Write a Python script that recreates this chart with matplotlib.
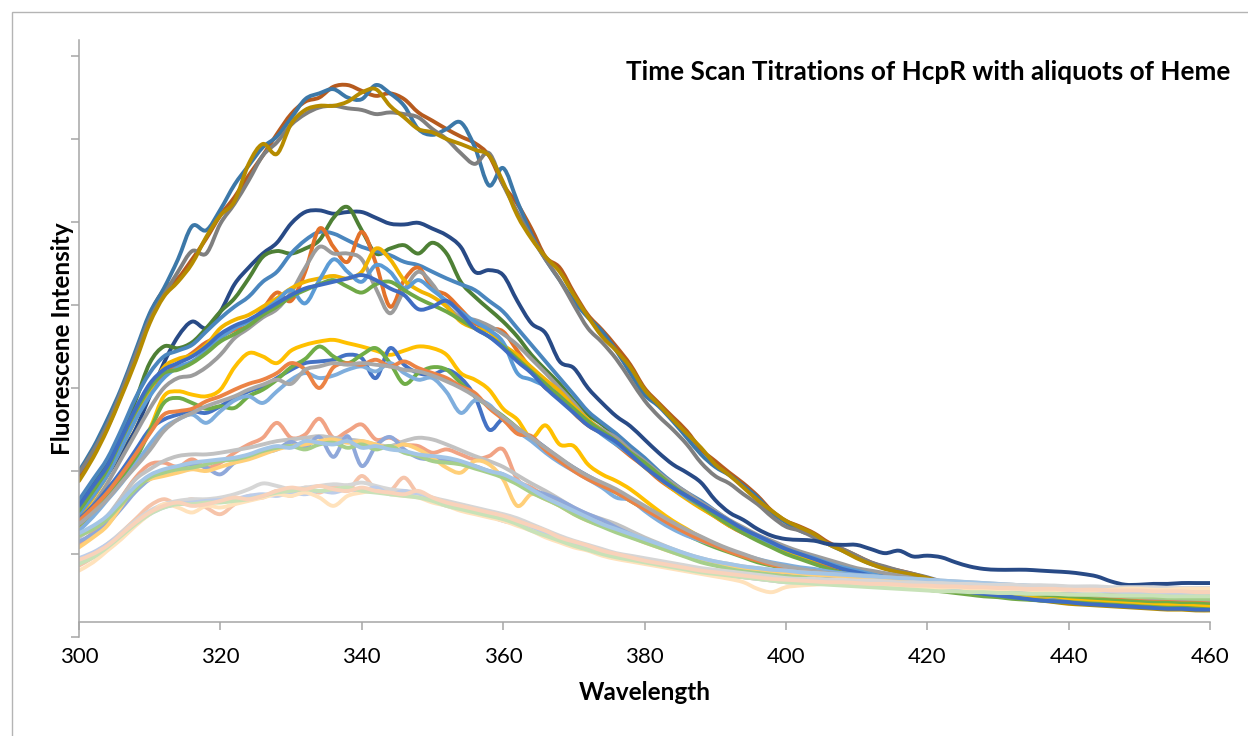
import numpy as np
import matplotlib
matplotlib.use('Agg')
import matplotlib.pyplot as plt
from matplotlib.path import Path
from matplotlib.patches import PathPatch, Rectangle

plt.rcParams['font.family'] = ['Lato', 'DejaVu Sans']

wavelength = np.arange(300, 461, 2)

# --- first scans (highest band) ---
top_brown = [192, 220, 252, 292, 338, 388, 418, 432, 455, 480,
             508, 530, 556, 580, 606, 630, 645, 650, 663, 665,
             658, 652, 655, 648, 632, 622, 612, 603, 595, 580,
             545, 522, 492, 458, 445, 415, 388, 370, 350, 328,
             300, 282, 265, 248, 226, 212, 198, 185, 170, 152,
             140, 133, 125, 114, 106, 98, 90, 84, 80, 76,
             71, 66, 62, 58, 54, 51, 49, 47, 45, 44,
             42, 41, 40, 39, 38, 37, 36, 35, 35, 34, 34]
top_steel = [200, 228, 262, 300, 345, 390, 420, 455, 495, 490,
             515, 545, 568, 590, 603, 625, 648, 655, 660, 650,
             648, 665, 655, 640, 612, 605, 612, 620, 590, 544,
             565, 525, 485, 455, 430, 405, 385, 368, 345, 318,
             292, 278, 260, 240, 220, 205, 195, 182, 168, 150,
             138, 128, 122, 112, 104, 96, 88, 84, 79, 75,
             70, 66, 61, 57, 54, 51, 49, 47, 45, 44,
             43, 42, 41, 40, 39, 38, 37, 37, 36, 36, 37]
top_gray = [198, 224, 256, 296, 340, 383, 412, 440, 465, 462,
            498, 522, 550, 580, 596, 617, 630, 638, 640, 637,
            635, 630, 632, 630, 626, 612, 600, 583, 570, 583,
            545, 512, 482, 455, 430, 400, 372, 355, 335, 310,
            285, 266, 250, 232, 210, 194, 185, 172, 160, 145,
            133, 128, 120, 112, 106, 98, 90, 85, 80, 76,
            72, 67, 63, 59, 56, 53, 51, 49, 47, 46,
            45, 44, 42, 41, 40, 39, 38, 38, 37, 37, 36]
top_gold = [188, 216, 250, 290, 332, 378, 410, 428, 450, 482,
            508, 525, 570, 594, 582, 618, 635, 640, 640, 645,
            656, 660, 640, 626, 612, 608, 600, 594, 587, 580,
            548, 508, 480, 458, 440, 412, 386, 362, 345, 325,
            298, 280, 262, 245, 228, 208, 195, 180, 165, 152,
            140, 132, 124, 112, 104, 95, 88, 82, 78, 75,
            71, 66, 61, 57, 54, 51, 49, 46, 44, 42,
            40, 39, 38, 37, 36, 35, 34, 33, 33, 32, 32]

navy = [150, 172, 195, 222, 250, 290, 330, 362, 380, 372,
        392, 425, 445, 462, 475, 498, 512, 514, 510, 512,
        512, 505, 498, 497, 499, 492, 484, 470, 440, 442,
        436, 405, 378, 366, 332, 324, 300, 282, 266, 254,
        238, 222, 208, 198, 186, 165, 150, 141, 130, 122,
        118, 117, 116, 112, 111, 111, 106, 101, 104, 97,
        98, 96, 90, 85, 82, 81, 81, 81, 80, 79,
        78, 76, 73, 67, 63, 63, 64, 64, 65, 65, 65]

# --- second band ---
b2_darkgreen = [160, 185, 210, 245, 285, 330, 350, 348, 355, 372,
                392, 408, 432, 458, 465, 462, 468, 478, 505, 518,
                490, 462, 468, 472, 462, 475, 462, 428, 410, 395,
                380, 362, 340, 322, 305, 285, 268, 256, 242, 226,
                212, 198, 184, 172, 161, 150, 138, 128, 120, 112,
                104, 98, 92, 86, 80, 76, 72, 69, 66, 63,
                60, 58, 56, 54, 52, 50, 49, 47, 46, 44,
                43, 42, 41, 40, 39, 38, 37, 37, 36, 36, 35]
b2_steel = [165, 190, 215, 250, 288, 318, 338, 345, 352, 368,
            384, 398, 410, 428, 440, 462, 478, 488, 486, 478,
            470, 465, 460, 452, 448, 440, 432, 425, 418, 405,
            392, 372, 352, 332, 312, 292, 272, 258, 245, 230,
            216, 200, 186, 174, 164, 152, 140, 130, 121, 114,
            107, 101, 95, 89, 84, 80, 76, 73, 70, 66,
            63, 60, 58, 56, 54, 52, 51, 49, 48, 47,
            46, 44, 43, 42, 41, 40, 39, 38, 38, 37, 36]
b2_orange = [150, 172, 198, 232, 270, 300, 315, 330, 342, 355,
             362, 370, 375, 395, 415, 405, 440, 492, 470, 452,
             488, 450, 398, 430, 445, 420, 412, 395, 378, 372,
             368, 345, 322, 300, 292, 270, 255, 245, 232, 218,
             205, 190, 178, 168, 156, 145, 134, 125, 118, 110,
             104, 98, 92, 86, 82, 78, 74, 72, 68, 66,
             63, 60, 58, 56, 55, 53, 52, 50, 49, 48,
             47, 46, 45, 44, 43, 42, 42, 41, 40, 40, 39]
b2_gray = [140, 160, 185, 215, 245, 275, 300, 312, 315, 325,
           340, 360, 372, 385, 395, 415, 445, 470, 462, 462,
           455, 420, 390, 418, 440, 425, 400, 385, 382, 375,
           365, 352, 335, 318, 300, 282, 262, 250, 240, 225,
           212, 198, 185, 174, 162, 152, 141, 132, 123, 116,
           109, 103, 98, 93, 88, 83, 80, 77, 74, 71,
           68, 66, 64, 62, 60, 59, 58, 57, 56, 56,
           55, 54, 53, 52, 51, 50, 49, 48, 47, 47, 46]
b2_gold = [145, 168, 195, 228, 262, 295, 325, 335, 340, 352,
           372, 382, 388, 398, 408, 420, 428, 432, 435, 432,
           440, 468, 455, 430, 418, 410, 398, 380, 372, 368,
           352, 340, 325, 310, 296, 278, 262, 248, 236, 222,
           205, 192, 178, 166, 155, 145, 134, 126, 118, 110,
           104, 98, 93, 88, 82, 78, 74, 71, 68, 64,
           61, 59, 57, 55, 53, 52, 50, 49, 47, 46,
           45, 44, 43, 42, 41, 40, 39, 38, 38, 37, 36]
b2_lightblue = [148, 170, 195, 228, 262, 290, 312, 325, 332, 345,
                360, 372, 380, 392, 405, 418, 402, 430, 455, 440,
                428, 448, 440, 420, 430, 418, 405, 392, 380, 370,
                355, 318, 310, 302, 290, 272, 258, 244, 232, 220,
                206, 192, 180, 168, 158, 148, 137, 128, 120, 112,
                106, 100, 95, 89, 84, 80, 76, 72, 70, 67,
                64, 61, 59, 57, 55, 54, 52, 51, 50, 48,
                47, 46, 45, 44, 43, 42, 41, 40, 40, 39, 38]
b2_green = [152, 176, 202, 238, 272, 300, 318, 322, 330, 342,
            356, 365, 375, 388, 398, 410, 418, 425, 430, 422,
            415, 425, 428, 418, 408, 400, 392, 382, 372, 362,
            350, 335, 320, 305, 290, 275, 260, 248, 236, 222,
            210, 196, 182, 170, 158, 146, 135, 125, 116, 108,
            100, 94, 88, 82, 77, 73, 69, 66, 63, 60,
            57, 55, 53, 51, 49, 48, 46, 45, 44, 43,
            42, 41, 40, 39, 38, 37, 36, 36, 35, 35, 34]
b2_blue = [158, 182, 206, 240, 275, 305, 322, 330, 338, 350,
           365, 375, 382, 392, 402, 412, 420, 424, 428, 432,
           436, 430, 420, 412, 395, 398, 405, 390, 372, 362,
           348, 332, 318, 300, 285, 270, 255, 245, 235, 220,
           205, 192, 180, 170, 160, 150, 140, 130, 122, 114,
           106, 100, 94, 88, 82, 78, 74, 70, 67, 64,
           61, 58, 56, 54, 52, 50, 48, 46, 44, 43,
           42, 40, 39, 38, 37, 36, 35, 34, 34, 33, 33]

# --- third band ---
b3_gold = [130, 148, 168, 192, 218, 250, 290, 296, 292, 290,
           298, 325, 342, 338, 330, 345, 352, 356, 358, 354,
           350, 345, 340, 345, 350, 348, 340, 318, 310, 298,
           275, 262, 240, 255, 232, 230, 208, 196, 188, 178,
           165, 152, 140, 130, 120, 112, 105, 98, 92, 88,
           86, 82, 80, 77, 74, 72, 70, 68, 66, 64,
           62, 60, 58, 57, 55, 54, 53, 51, 50, 49,
           47, 46, 45, 44, 43, 42, 41, 40, 40, 39, 38]
b3_blue = [142, 158, 178, 200, 225, 250, 262, 268, 272, 270,
           278, 288, 296, 302, 312, 322, 330, 332, 334, 340,
           336, 312, 348, 328, 318, 316, 322, 312, 290, 250,
           262, 246, 240, 228, 215, 204, 194, 185, 176, 166,
           155, 144, 134, 126, 118, 110, 104, 98, 93, 88,
           84, 81, 78, 75, 73, 71, 70, 68, 66, 64,
           62, 61, 60, 58, 57, 56, 55, 53, 52, 51,
           50, 49, 48, 47, 46, 45, 44, 44, 43, 42, 42]
b3_green = [135, 150, 168, 190, 214, 248, 282, 288, 282, 275,
            278, 276, 290, 298, 310, 325, 335, 350, 338, 330,
            340, 348, 330, 305, 318, 325, 322, 306, 290, 278,
            266, 252, 238, 226, 214, 203, 191, 182, 174, 164,
            154, 143, 132, 123, 115, 108, 102, 96, 90, 86,
            82, 79, 77, 74, 72, 70, 68, 66, 64, 62,
            60, 59, 58, 56, 55, 54, 53, 52, 51, 50,
            49, 48, 47, 46, 45, 44, 43, 43, 42, 42, 41]
b3_lightblue = [128, 145, 165, 185, 208, 232, 252, 262, 268, 258,
                272, 285, 290, 282, 296, 310, 318, 312, 315, 322,
                326, 320, 330, 318, 310, 312, 295, 270, 285, 280,
                262, 248, 236, 222, 210, 200, 190, 180, 168, 165,
                152, 140, 130, 122, 116, 110, 104, 99, 94, 90,
                87, 84, 82, 79, 77, 75, 74, 72, 70, 68,
                67, 66, 64, 63, 62, 61, 60, 59, 58, 57,
                56, 55, 54, 53, 52, 51, 50, 50, 49, 49, 48]
b3_orange = [140, 156, 174, 196, 220, 245, 268, 272, 275, 284,
             290, 298, 305, 310, 318, 330, 322, 300, 325, 330,
             328, 334, 326, 332, 324, 318, 312, 302, 294, 276,
             262, 245, 242, 225, 212, 200, 190, 182, 174, 164,
             154, 144, 134, 125, 117, 110, 103, 97, 92, 87,
             84, 81, 79, 76, 74, 72, 70, 69, 67, 65,
             63, 62, 60, 59, 58, 57, 56, 55, 54, 53,
             52, 51, 50, 49, 48, 47, 46, 46, 45, 45, 44]
b3_gray = [136, 150, 166, 186, 205, 225, 248, 262, 270, 278,
           284, 290, 298, 304, 310, 305, 322, 326, 330, 328,
           330, 328, 326, 322, 320, 315, 308, 300, 290, 278,
           265, 252, 240, 228, 216, 204, 194, 186, 178, 168,
           158, 148, 138, 129, 121, 113, 106, 100, 94, 89,
           85, 82, 79, 77, 75, 73, 71, 69, 67, 66,
           64, 63, 62, 60, 59, 58, 57, 56, 55, 54,
           53, 52, 51, 50, 49, 48, 47, 47, 46, 46, 45]

# --- fourth band ---
b4_salmon = [112, 126, 142, 168, 192, 208, 210, 205, 214, 204,
             210, 222, 232, 240, 258, 240, 244, 263, 240, 248,
             256, 238, 240, 232, 230, 222, 226, 220, 214, 218,
             226, 190, 180, 170, 162, 152, 144, 136, 129, 122,
             116, 110, 104, 98, 94, 90, 87, 84, 82, 80,
             79, 78, 77, 75, 74, 73, 71, 70, 69, 68,
             67, 66, 65, 63, 62, 61, 60, 59, 59, 58,
             57, 56, 56, 55, 54, 53, 53, 52, 52, 51, 51]
b4_gray = [120, 132, 146, 168, 190, 202, 212, 218, 220, 220,
           222, 225, 228, 232, 236, 238, 240, 242, 240, 238,
           236, 232, 230, 236, 240, 238, 232, 225, 218, 212,
           205, 195, 185, 176, 166, 156, 148, 142, 136, 128,
           120, 113, 106, 100, 95, 91, 88, 85, 83, 81,
           80, 78, 77, 76, 75, 74, 73, 72, 71, 70,
           69, 68, 67, 66, 65, 64, 63, 62, 62, 61,
           60, 59, 59, 58, 57, 57, 56, 56, 55, 55, 54]
b4_periwinkle = [115, 124, 136, 155, 175, 190, 198, 204, 208, 204,
                 196, 210, 218, 222, 226, 235, 228, 241, 217, 242,
                 206, 230, 241, 226, 216, 214, 212, 210, 206, 200,
                 196, 185, 177, 172, 165, 156, 148, 141, 132, 124,
                 116, 110, 105, 99, 94, 90, 86, 83, 81, 79,
                 77, 76, 75, 73, 72, 71, 70, 68, 67, 66,
                 65, 64, 63, 62, 61, 60, 59, 58, 57, 56,
                 55, 55, 54, 53, 52, 52, 51, 50, 50, 49, 49]
b4_gold = [108, 120, 134, 158, 182, 190, 194, 198, 202, 200,
           205, 210, 214, 220, 226, 230, 232, 236, 238, 234,
           236, 232, 228, 232, 226, 216, 204, 198, 212, 208,
           190, 158, 172, 166, 158, 148, 140, 134, 128, 121,
           114, 108, 102, 97, 92, 88, 85, 83, 81, 79,
           78, 76, 75, 74, 73, 72, 71, 70, 69, 68,
           67, 66, 65, 64, 63, 62, 61, 60, 59, 58,
           57, 57, 56, 55, 54, 54, 53, 53, 52, 52, 51]
b4_green = [122, 130, 142, 160, 178, 192, 198, 202, 204, 208,
            212, 214, 218, 224, 228, 230, 226, 232, 234, 228,
            232, 226, 230, 222, 218, 212, 210, 208, 203, 198,
            192, 184, 174, 166, 158, 148, 140, 133, 126, 120,
            114, 108, 102, 96, 90, 86, 82, 79, 77, 75,
            73, 72, 70, 69, 68, 67, 66, 64, 63, 62,
            61, 60, 59, 58, 57, 56, 55, 54, 53, 52,
            52, 51, 50, 50, 49, 48, 48, 47, 47, 46, 46]
b4_lightblue = [125, 134, 146, 164, 182, 195, 202, 206, 210, 212,
                214, 216, 220, 226, 230, 228, 236, 234, 232, 236,
                228, 230, 226, 224, 220, 218, 216, 212, 206, 200,
                196, 188, 178, 168, 160, 152, 144, 136, 130, 124,
                118, 112, 106, 100, 95, 91, 88, 85, 83, 81,
                80, 78, 77, 76, 75, 74, 73, 72, 71, 70,
                69, 68, 67, 66, 65, 64, 63, 62, 61, 61,
                60, 59, 59, 58, 58, 57, 57, 56, 56, 55, 55]

# --- last scans (lowest band) ---
b5_salmon = [86, 96, 110, 126, 142, 158, 166, 160, 166, 156,
             148, 160, 170, 168, 176, 170, 180, 174, 182, 176,
             194, 178, 176, 192, 172, 166, 160, 156, 150, 146,
             140, 136, 130, 122, 116, 110, 106, 100, 96, 93,
             90, 87, 84, 81, 78, 76, 74, 72, 70, 68,
             66, 66, 65, 65, 64, 64, 63, 62, 62, 61,
             61, 60, 60, 59, 59, 58, 58, 57, 57, 57,
             56, 56, 55, 55, 55, 54, 54, 54, 53, 53, 53]
b5_gray = [92, 100, 112, 126, 140, 152, 160, 164, 166, 166,
           168, 172, 178, 185, 182, 178, 180, 182, 184, 183,
           186, 182, 178, 176, 174, 168, 164, 160, 156, 152,
           148, 143, 136, 129, 122, 116, 111, 106, 101, 98,
           95, 92, 89, 86, 83, 81, 79, 77, 75, 73,
           71, 70, 70, 69, 69, 68, 68, 67, 66, 66,
           65, 65, 64, 64, 63, 63, 63, 62, 62, 62,
           61, 61, 61, 60, 60, 60, 60, 59, 59, 59, 59]
b5_periwinkle = [95, 102, 112, 124, 136, 148, 156, 160, 162, 164,
                 165, 166, 170, 172, 170, 174, 172, 176, 174, 178,
                 176, 180, 172, 176, 170, 164, 158, 154, 150, 146,
                 140, 136, 130, 124, 117, 112, 106, 101, 96, 93,
                 90, 87, 84, 81, 78, 76, 74, 72, 70, 68,
                 66, 65, 64, 64, 63, 63, 62, 61, 61, 60,
                 60, 59, 59, 58, 58, 58, 57, 57, 56, 56,
                 56, 55, 55, 55, 54, 54, 54, 53, 53, 53, 53]
b5_peach = [80, 90, 104, 118, 134, 148, 160, 156, 150, 158,
            156, 160, 164, 168, 172, 170, 174, 168, 158, 170,
            174, 176, 172, 170, 168, 162, 158, 152, 148, 144,
            140, 134, 128, 120, 114, 108, 104, 98, 94, 91,
            88, 85, 82, 79, 76, 73, 70, 66, 58, 54,
            60, 62, 63, 64, 63, 62, 62, 61, 60, 60,
            59, 59, 60, 58, 57, 57, 58, 57, 56, 56,
            57, 56, 56, 57, 58, 58, 57, 57, 58, 58, 58]
b5_mint = [88, 96, 108, 122, 136, 148, 156, 160, 160, 162,
           162, 164, 166, 170, 174, 176, 178, 176, 178, 180,
           176, 174, 172, 170, 168, 164, 158, 154, 150, 146,
           142, 136, 128, 122, 116, 110, 105, 100, 96, 93,
           90, 87, 84, 81, 78, 76, 74, 72, 70, 68,
           66, 65, 64, 63, 62, 61, 60, 59, 58, 57,
           56, 55, 55, 54, 54, 53, 53, 52, 52, 52,
           51, 51, 51, 50, 50, 50, 50, 49, 49, 49, 49]
b5_pink = [93, 100, 110, 124, 138, 150, 158, 162, 158, 160,
           164, 168, 166, 170, 176, 180, 178, 182, 178, 176,
           180, 176, 174, 172, 176, 168, 162, 158, 154, 150,
           146, 140, 134, 128, 120, 115, 110, 104, 100, 96,
           92, 89, 86, 83, 80, 78, 76, 74, 72, 70,
           69, 68, 67, 66, 66, 65, 64, 64, 63, 62,
           62, 61, 61, 60, 60, 59, 59, 58, 58, 58,
           57, 57, 57, 56, 56, 56, 55, 55, 55, 54, 54]

series = [
    (top_brown, '#B65A1E'), (top_steel, '#3C78A8'), (top_gray, '#7F7F7F'), (top_gold, '#B58B00'),
    (navy, '#284A86'),
    (b2_darkgreen, '#4E8035'), (b2_steel, '#4A86BE'), (b2_orange, '#E3722A'), (b2_gray, '#9C9C9C'),
    (b2_gold, '#F2B400'), (b2_lightblue, '#5B9BD5'), (b2_green, '#6FA846'), (b2_blue, '#3F6DC2'),
    (b3_gold, '#FFC000'), (b3_blue, '#4472C4'), (b3_green, '#70AD47'), (b3_lightblue, '#7FAEDD'),
    (b3_orange, '#EC8345'), (b3_gray, '#A8A8A8'),
    (b4_salmon, '#F1A384'), (b4_gray, '#C2C2C2'), (b4_periwinkle, '#8FA8DA'), (b4_gold, '#FFCF78'),
    (b4_green, '#A6CF8B'), (b4_lightblue, '#A3C5E6'),
    (b5_salmon, '#F6C4AA'), (b5_gray, '#D6D6D6'), (b5_periwinkle, '#BDCDEA'), (b5_peach, '#FFE2BC'),
    (b5_mint, '#C8E2B8'), (b5_pink, '#F9D2BA'),
]


def smooth_path(x, y):
    # Excel-style smoothed line: Catmull-Rom segments as cubic Beziers
    pts = np.column_stack([x, y]).astype(float)
    ext = np.vstack([pts[0], pts, pts[-1]])
    verts = [pts[0]]
    codes = [Path.MOVETO]
    for i in range(len(pts) - 1):
        p0, p1, p2, p3 = ext[i], ext[i + 1], ext[i + 2], ext[i + 3]
        verts += [p1 + (p2 - p0) / 6, p2 - (p3 - p1) / 6, p2]
        codes += [Path.CURVE4] * 3
    return Path(verts, codes)


W, H = 1248, 736
fig = plt.figure(figsize=(W / 100, H / 100), dpi=100)
ax = fig.add_axes([79 / W, (H - 637) / H, (1210 - 79) / W, (637 - 40) / H])

for values, color in series:
    assert len(values) == len(wavelength)
    ax.add_patch(PathPatch(smooth_path(wavelength, values), fill=False, edgecolor=color,
                           lw=2.8, capstyle='round', joinstyle='round'))

ax.set_xlim(300, 460)
ax.set_ylim(0, (637 - 40) / 83 * 100)
ax.set_xticks(np.arange(300, 461, 20))
ax.set_yticks(np.arange(0, 701, 100))

axis_gray = '#A6A6A6'
for side in ['top', 'right']:
    ax.spines[side].set_visible(False)
ax.spines['bottom'].set_position(('data', 18))
for side in ['left', 'bottom']:
    ax.spines[side].set_color(axis_gray)
    ax.spines[side].set_linewidth(1.1)
ax.tick_params(axis='x', direction='out', length=6, width=1.1, color=axis_gray,
               labelsize=16, pad=12, labelcolor='black')
ax.tick_params(axis='y', direction='out', length=6, width=1.1, color=axis_gray,
               labelleft=False)

fig.text(626 / W, 1 - 72 / H, 'Time Scan Titrations of HcpR with aliquots of Heme',
         fontsize=18.8, fontweight='bold', ha='left', va='center')
fig.text(645 / W, 1 - 693 / H, 'Wavelength', fontsize=17.5, fontweight='bold',
         ha='center', va='center')
fig.text(63 / W, 1 - 339 / H, 'Fluorescene Intensity', fontsize=17.5, fontweight='bold',
         rotation=90, ha='center', va='center')

# chart frame (runs off the right and bottom edges in the original)
fig.add_artist(Rectangle((12 / W, -0.5), 2, 1 - 12 / H + 0.5, transform=fig.transFigure,
                         fill=False, edgecolor='#B4B4B4', lw=1))

fig.savefig('out.png', dpi=100)
